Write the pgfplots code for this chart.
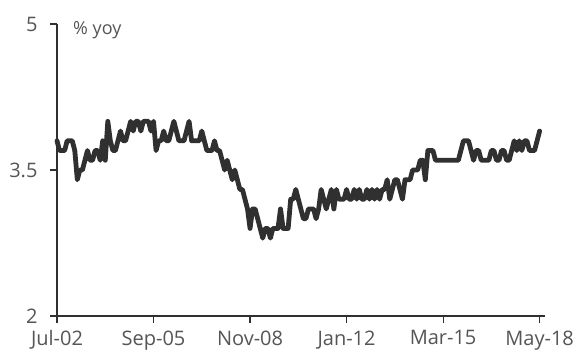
\documentclass[border=0pt]{standalone}
\usepackage{pgfplots}
\pgfplotsset{compat=1.18}
\usetikzlibrary{calc}
\usepackage{fontspec}
\setmainfont{Open Sans}
\definecolor{lineC}{HTML}{303030}
\definecolor{txt}{HTML}{555555}
\begin{document}
\begin{tikzpicture}
\begin{axis}[
  scale only axis, width=487.7pt, height=292pt,
  xmin=0, xmax=192, ymin=2, ymax=5,
  axis x line=bottom, axis y line=left,
  axis line style={-, draw=lineC, line width=1.4pt},
  xtick={0,38,76,114,152,190},
  xticklabels={Jul-02,Sep-05,Nov-08,Jan-12,Mar-15,May-18},
  ytick={2,3.5,5}, yticklabels={2,3.5,5},
  tick align=outside, major tick length=7pt,
  tick style={draw=lineC, line width=1.2pt},
  ticklabel style={font=\fontsize{20}{22}\selectfont, text=txt},
  yticklabel style={xshift=-9pt},
  xticklabel style={yshift=-4pt},
  /pgf/number format/assume math mode=true,
  clip=false,
]
\coordinate (bl) at (rel axis cs:0,0);
\coordinate (tr) at (rel axis cs:1,1);
\addplot[draw=lineC, line width=4.8pt, line join=round, line cap=round, no marks] coordinates {
(0,3.8)(1,3.7)(2,3.7)(3,3.7)(4,3.8)(5,3.8)(6,3.8)(7,3.7)(8,3.4)(9,3.5)
(10,3.5)(11,3.6)(12,3.7)(13,3.6)(14,3.6)(15,3.7)(16,3.7)(17,3.6)(18,3.8)(19,3.6)
(20,4.0)(21,3.8)(22,3.7)(23,3.7)(24,3.8)(25,3.9)(26,3.8)(27,3.8)(28,3.9)(29,4.0)
(30,3.9)(31,4.0)(32,4.0)(33,3.9)(34,4.0)(35,4.0)(36,4.0)(37,3.9)(38,4.0)(39,3.7)
(40,3.8)(41,3.8)(42,3.9)(43,3.8)(44,3.8)(45,3.9)(46,4.0)(47,3.9)(48,3.8)(49,3.8)
(50,3.8)(51,3.9)(52,4.0)(53,3.8)(54,3.8)(55,3.8)(56,3.8)(57,3.9)(58,3.8)(59,3.7)
(60,3.7)(61,3.7)(62,3.8)(63,3.7)(64,3.7)(65,3.6)(66,3.5)(67,3.6)(68,3.5)(69,3.4)
(70,3.5)(71,3.4)(72,3.3)(73,3.3)(74,3.2)(75,3.1)(76,2.9)(77,3.1)(78,3.1)(79,3.0)
(80,2.9)(81,2.8)(82,2.9)(83,2.9)(84,2.8)(85,2.9)(86,2.9)(87,2.9)(88,3.1)(89,2.9)
(90,2.9)(91,2.9)(92,3.2)(93,3.2)(94,3.3)(95,3.2)(96,3.1)(97,3.0)(98,3.0)(99,3.1)
(100,3.1)(101,3.1)(102,3.0)(103,3.1)(104,3.3)(105,3.2)(106,3.1)(107,3.2)(108,3.3)(109,3.1)
(110,3.3)(111,3.2)(112,3.2)(113,3.2)(114,3.3)(115,3.2)(116,3.2)(117,3.3)(118,3.2)(119,3.3)
(120,3.2)(121,3.2)(122,3.3)(123,3.2)(124,3.3)(125,3.2)(126,3.3)(127,3.2)(128,3.3)(129,3.3)
(130,3.4)(131,3.2)(132,3.3)(133,3.4)(134,3.4)(135,3.3)(136,3.2)(137,3.4)(138,3.4)(139,3.4)
(140,3.5)(141,3.5)(142,3.5)(143,3.6)(144,3.6)(145,3.4)(146,3.7)(147,3.7)(148,3.7)(149,3.6)
(150,3.6)(151,3.6)(152,3.6)(153,3.6)(154,3.6)(155,3.6)(156,3.6)(157,3.6)(158,3.6)(159,3.7)
(160,3.8)(161,3.8)(162,3.8)(163,3.7)(164,3.6)(165,3.7)(166,3.7)(167,3.6)(168,3.6)(169,3.6)
(170,3.6)(171,3.7)(172,3.7)(173,3.6)(174,3.6)(175,3.7)(176,3.7)(177,3.6)(178,3.6)(179,3.7)
(180,3.8)(181,3.7)(182,3.8)(183,3.7)(184,3.8)(185,3.8)(186,3.7)(187,3.7)(188,3.7)(189,3.8)
(190,3.9)
};
\node[anchor=west, text=txt, font=\fontsize{18}{20}\selectfont, inner sep=0pt] at (axis cs:6.3,4.94) {\% yoy};
\end{axis}
\pgfresetboundingbox
\path[use as bounding box] ($(bl)+(-57pt,-35pt)$) rectangle ($(tr)+(32.3pt,24pt)$);
\end{tikzpicture}
\end{document}
